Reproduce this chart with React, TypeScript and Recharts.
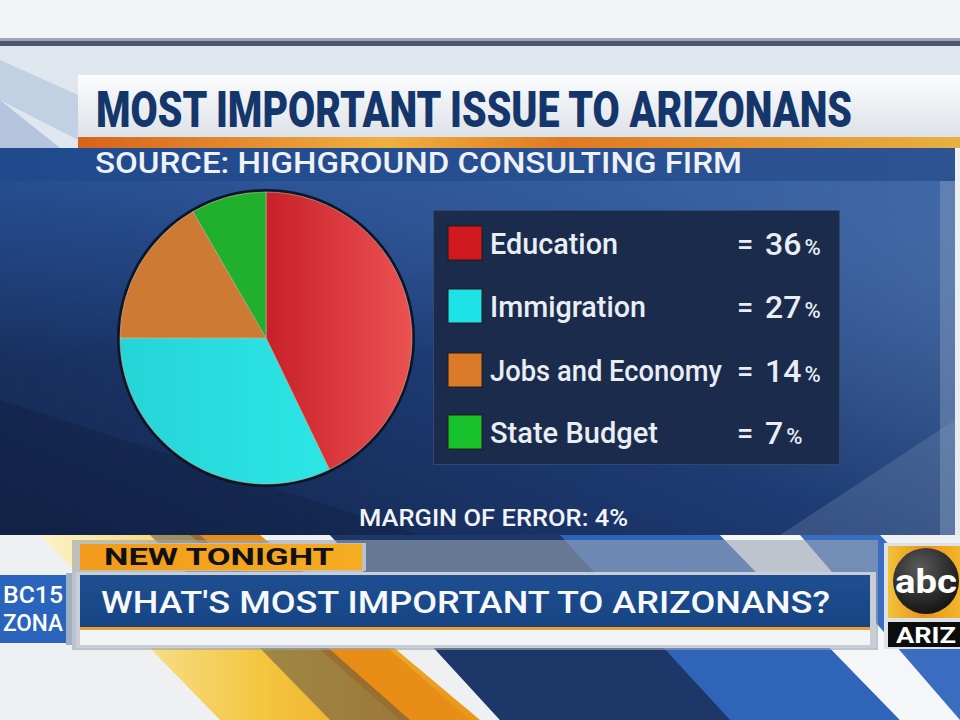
import React from "react";
import { PieChart, Pie, Cell, Legend } from "recharts";

const categories = ["Education", "Immigration", "Jobs and Economy", "State Budget"];
const values = [36, 27, 14, 7];
const colors = ["url(#gRed)", "url(#gCyan)", "#cd7a34", "#20b02b"];
const swatchColors = ["#d0191e", "#1de3e6", "#dc7a2c", "#17c22a"];
const labelWidths = [128, 156, 232, 168];
const rimData = [{ name: "rim", value: 1 }];

const data = categories.map((c, i) => ({ name: c, value: values[i] }));

const FONT = "Roboto, 'DejaVu Sans', sans-serif";

function LegendBox() {
  const rowCenters = [33, 96, 160, 222];
  return (
    <svg width={408} height={256} style={{ display: "block" }}>
      <rect x={0.5} y={0.5} width={406} height={254} fill="#1b2b4c" stroke="#34476c" strokeWidth={1} />
      {categories.map((c, i) => {
        const cy = rowCenters[i];
        return (
          <g key={c}>
            <rect x={15} y={cy - 17} width={34} height={34} fill={swatchColors[i]} stroke="#2a1a10" strokeWidth={1} />
            <text x={57} y={cy + 11} fontFamily={FONT} fontWeight={500} fontSize={29} fill="#e9eef5"
              textLength={labelWidths[i]} lengthAdjust="spacingAndGlyphs">{c}</text>
            <text x={304} y={cy + 11} fontFamily={FONT} fontWeight={500} fontSize={29} fill="#e9eef5">=</text>
            <text x={332} y={cy + 12} fontFamily={FONT} fontWeight={500} fontSize={32} fill="#e9eef5">
              {values[i]}
              <tspan fontSize={22} dx={3}>%</tspan>
            </text>
          </g>
        );
      })}
    </svg>
  );
}

function Background() {
  return (
    <svg width={960} height={720} style={{ position: "absolute", left: 0, top: 0 }}>
      <defs>
        <linearGradient id="bgTop" x1="0" y1="0" x2="0" y2="1">
          <stop offset="0" stopColor="#f2f4f6" />
          <stop offset="1" stopColor="#e4e9ef" />
        </linearGradient>
        <linearGradient id="panel" x1="0" y1="1" x2="1" y2="0">
          <stop offset="0" stopColor="#13244a" />
          <stop offset="0.45" stopColor="#1d3a72" />
          <stop offset="0.75" stopColor="#3c5f98" />
          <stop offset="1" stopColor="#6484b2" />
        </linearGradient>
        <linearGradient id="panelTop" x1="0" y1="0" x2="0" y2="1">
          <stop offset="0" stopColor="#2c5aa2" stopOpacity="0.6" />
          <stop offset="1" stopColor="#2c5aa2" stopOpacity="0" />
        </linearGradient>
        <linearGradient id="titleBar" x1="0" y1="0" x2="0" y2="1">
          <stop offset="0" stopColor="#fbfcfd" />
          <stop offset="1" stopColor="#dde2e8" />
        </linearGradient>
        <linearGradient id="orangeLine" x1="0" y1="0" x2="1" y2="0">
          <stop offset="0" stopColor="#d8621a" />
          <stop offset="0.35" stopColor="#f0b040" />
          <stop offset="0.55" stopColor="#e07a20" />
          <stop offset="1" stopColor="#e8b040" />
        </linearGradient>
        <linearGradient id="srcBar" x1="0" y1="0" x2="1" y2="0">
          <stop offset="0" stopColor="#1f4a8e" />
          <stop offset="1" stopColor="#2e5392" />
        </linearGradient>
        <linearGradient id="gold" x1="0" y1="0" x2="1" y2="0">
          <stop offset="0" stopColor="#f2c23a" />
          <stop offset="0.5" stopColor="#e8931a" />
          <stop offset="1" stopColor="#f3b52a" />
        </linearGradient>
        <linearGradient id="newT" x1="0" y1="0" x2="1" y2="0">
          <stop offset="0" stopColor="#f39a1c" />
          <stop offset="1" stopColor="#f5ac22" />
        </linearGradient>
        <linearGradient id="mainBar" x1="0" y1="0" x2="0" y2="1">
          <stop offset="0" stopColor="#1f4f92" />
          <stop offset="1" stopColor="#164484" />
        </linearGradient>
        <linearGradient id="yellowStripe" x1="0" y1="0" x2="1" y2="0">
          <stop offset="0" stopColor="#fbf3c8" />
          <stop offset="0.5" stopColor="#f4c640" />
          <stop offset="1" stopColor="#e89418" />
        </linearGradient>
        <radialGradient id="abcBall" cx="0.4" cy="0.3" r="0.8">
          <stop offset="0" stopColor="#5a5a5a" />
          <stop offset="1" stopColor="#0c0c0c" />
        </radialGradient>
      </defs>
      <rect x={0} y={0} width={960} height={720} fill="url(#bgTop)" />
      <rect x={0} y={38} width={960} height={3} fill="#9aa6b8" />
      <rect x={0} y={41} width={960} height={5} fill="#4b5670" />
      <rect x={0} y={46} width={960} height={102} fill="#dfe6ee" />
      <polygon points="0,60 78,95 78,140 0,100" fill="#c2d0e4" />
      <polygon points="0,100 60,148 0,148" fill="#b4c4dc" />
      <rect x={0} y={535} width={960} height={185} fill="#eef0f2" />
      <polygon points="40,535 260,535 480,720 220,720" fill="url(#yellowStripe)" />
      <polygon points="190,535 260,535 470,720 400,720" fill="#e88e16" />
      <polygon points="150,535 200,535 410,720 330,720" fill="#5a5448" opacity="0.55" />
      <polygon points="330,535 720,535 900,720 500,720" fill="#2f64b8" />
      <polygon points="330,535 560,535 730,720 500,720" fill="#1c3260" opacity="0.9" />
      <polygon points="720,535 800,535 980,720 900,720" fill="#f4f6f8" />
      <polygon points="800,535 880,535 960,620 960,720" fill="#3a6cc0" />
      <rect x={0} y={148} width={955} height={387} fill="url(#panel)" />
      <rect x={0} y={181} width={955} height={180} fill="url(#panelTop)" />
      <polygon points="0,400 420,535 0,535" fill="#0f1d3c" opacity="0.35" />
      <polygon points="780,535 955,420 955,535" fill="#8aa0c0" opacity="0.25" />
      <rect x={940} y={148} width={15} height={387} fill="#7e98bc" opacity="0.5" />
      <rect x={78} y={75} width={882} height={63} fill="url(#titleBar)" />
      <rect x={78} y={137} width={882} height={11} fill="url(#orangeLine)" />
      <rect x={0} y={148} width={955} height={33} fill="url(#srcBar)" />
      <rect x={72} y={540} width={806} height={110} fill="#9aa4b0" opacity="0.6" />
      <rect x={76} y={543} width={290} height={28} fill="#b9c0c8" />
      <rect x={80} y={544} width={282} height={26} fill="url(#newT)" />
      <rect x={76} y={572} width={800} height={76} fill="#c9ced6" />
      <rect x={80} y={575} width={790} height={52} fill="url(#mainBar)" />
      <rect x={80} y={627} width={790} height={3} fill="#e8a030" />
      <rect x={80} y={630} width={790} height={15} fill="#f3f4f6" />
      <rect x={0} y={575} width={66} height={68} fill="#2a64bc" />
      <rect x={66} y={573} width={6} height={72} fill="#9fb0c4" />
      <rect x={884} y={543} width={76} height={106} fill="#dde2e8" />
      <rect x={888} y={546} width={72} height={72} fill="url(#gold)" />
      <circle cx={926} cy={581} r={33} fill="url(#abcBall)" />
      <rect x={888} y={622} width={72} height={25} fill="#0c0c0c" />
    </svg>
  );
}

function Foreground() {
  return (
    <svg width={960} height={720} style={{ position: "absolute", left: 0, top: 0, pointerEvents: "none" }}>
      <g transform="translate(96,127) scale(1,1.23)">
        <text x={0} y={0} fontFamily={FONT} fontWeight={900} fontSize={40} fill="#14366a"
          textLength={756} lengthAdjust="spacingAndGlyphs">
          MOST IMPORTANT ISSUE TO ARIZONANS
        </text>
      </g>
      <text x={95} y={173} fontFamily={FONT} fontWeight={500} fontSize={29} fill="#eef1f6"
        textLength={647} lengthAdjust="spacingAndGlyphs">
        SOURCE: HIGHGROUND CONSULTING FIRM
      </text>
      <text x={359} y={526} fontFamily={FONT} fontWeight={500} fontSize={24} fill="#f2f4f8"
        textLength={269} lengthAdjust="spacingAndGlyphs">
        MARGIN OF ERROR: 4%
      </text>
      <text x={104} y={565} fontFamily={FONT} fontWeight={700} fontSize={24} fill="#111111"
        textLength={230} lengthAdjust="spacingAndGlyphs">
        NEW TONIGHT
      </text>
      <text x={101} y={613} fontFamily={FONT} fontWeight={500} fontSize={32} fill="#f6f8fb"
        textLength={729} lengthAdjust="spacingAndGlyphs">
        WHAT'S MOST IMPORTANT TO ARIZONANS?
      </text>
      <text x={63} y={603} textAnchor="end" fontFamily={FONT} fontWeight={500} fontSize={24} fill="#ffffff"
        textLength={60} lengthAdjust="spacingAndGlyphs">BC15</text>
      <text x={63} y={631} textAnchor="end" fontFamily={FONT} fontWeight={500} fontSize={24} fill="#ffffff"
        textLength={60} lengthAdjust="spacingAndGlyphs">ZONA</text>
      <text x={926} y={593} textAnchor="middle" fontFamily={FONT} fontWeight={700} fontSize={34} fill="#ffffff"
        textLength={62} lengthAdjust="spacingAndGlyphs">abc</text>
      <text x={896} y={643} fontFamily={FONT} fontWeight={700} fontSize={22} fill="#ffffff"
        textLength={60} lengthAdjust="spacingAndGlyphs">ARIZ</text>
    </svg>
  );
}

export default function App() {
  return (
    <div style={{ position: "absolute", left: 0, top: 0, width: 960, height: 720, overflow: "hidden", background: "#eef0f2" }}>
      <Background />
      <div style={{ position: "absolute", left: 0, top: 0 }}>
        <PieChart width={960} height={720} margin={{ top: 0, right: 0, bottom: 0, left: 0 }}>
          <defs>
            <linearGradient id="gRed" x1="0" y1="0" x2="1" y2="0">
              <stop offset="0" stopColor="#c8202a" />
              <stop offset="1" stopColor="#ec5252" />
            </linearGradient>
            <linearGradient id="gCyan" x1="0" y1="0" x2="1" y2="0">
              <stop offset="0" stopColor="#26d4d8" />
              <stop offset="1" stopColor="#2ce6e4" />
            </linearGradient>
          </defs>
          <Pie data={rimData} dataKey="value" cx={266} cy={338} outerRadius={149} fill="#0d1528"
            stroke="none" isAnimationActive={false} />
          <Pie data={data} dataKey="value" nameKey="name" cx={266} cy={338} outerRadius={146}
            startAngle={90} endAngle={-270} stroke="#c8b8a0" strokeWidth={0.6} isAnimationActive={false}>
            {data.map((d, i) => (
              <Cell key={d.name} fill={colors[i]} />
            ))}
          </Pie>
          <Legend content={() => <LegendBox />}
            wrapperStyle={{ position: "absolute", left: 433, top: 210, width: 408, height: 256 }} />
        </PieChart>
      </div>
      <Foreground />
    </div>
  );
}
